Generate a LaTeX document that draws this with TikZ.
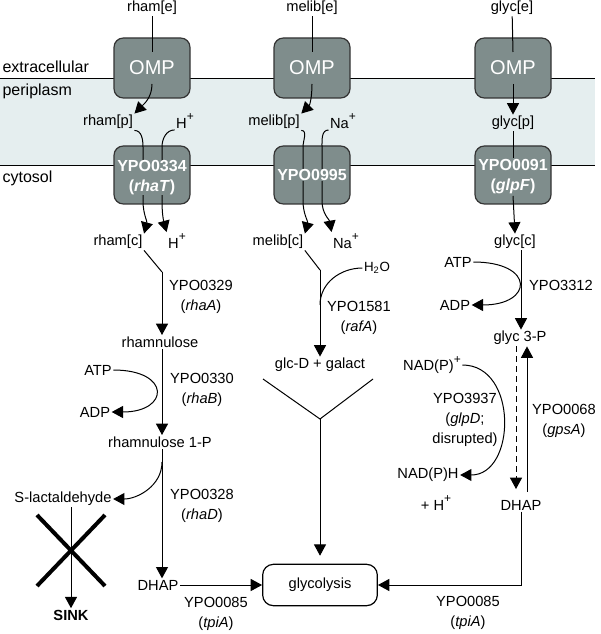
\documentclass[tikz,border=0pt]{standalone}
\usepackage{fontspec}
\setmainfont{Liberation Sans}
\usetikzlibrary{arrows.meta}
\definecolor{ompgray}{HTML}{7F8D8C}
\definecolor{periblue}{HTML}{E5EEEF}
\newcommand{\ionplus}{\raisebox{1.0ex}{\fontsize{9}{9}\selectfont +}}

\begin{document}
\begin{tikzpicture}[x=0.75pt,y=-0.75pt,
  every node/.style={font=\fontsize{11}{15}\selectfont,inner sep=1pt},
  gene/.style={align=center},
  memb/.style={anchor=west,font=\fontsize{12}{15}\selectfont},
  ompbox/.style={draw=black!80,line width=0.9pt,fill=ompgray,rounded corners=7pt,minimum width=57pt,minimum height=45pt,text=white,font=\fontsize{15}{17}\selectfont},
  tpbox/.style={ompbox,minimum height=43.5pt},
  tplabel/.style={fill=ompgray,inner sep=0pt,text=white,align=center,font=\fontsize{12}{15}\selectfont\bfseries},
  ln/.style={line width=0.75pt},
  arr/.style={ln,-{Triangle[length=8.5pt,width=9pt]}},
  cross/.style={line width=3pt}]
\useasboundingbox (0,0) rectangle (600,634);

\fill[periblue] (0,79) rectangle (595,166);
\coordinate (m0) at (0,79);
\coordinate (m1) at (595,79);
\coordinate (c0) at (0,166);
\coordinate (c1) at (595,166);
\draw[ln] (m0) -- (m1);
\draw[ln] (c0) -- (c1);

\node[memb] (extra) at (1,67) {extracellular};
\node[memb] (peri) at (1,91) {periplasm};
\node[memb] (cyto) at (1,178) {cytosol};


\node (rhame) at (152,8) {rham[e]};
\node[ompbox] (omp1) at (152,68) {OMP};
\coordinate (o1a) at (152,52);
\coordinate (o1b) at (152,84);
\draw[ln] (rhame) -- (o1a);

\node (rhamp) at (108,122) {rham[p]};
\node (hp1) at (185,121) {H\ionplus};
\draw[arr] (o1b) to[out=-90,in=45] (rhamp.north east);

\node[tpbox] (tr1) at (152,175) {};
\coordinate (r1) at (143,147);
\coordinate (r2) at (143,201);
\coordinate (h1) at (162,147);
\coordinate (h2) at (162,201);
\draw[ln] (rhamp.south east) to[out=0,in=90] (r1) -- (r2);
\draw[ln] (hp1.south west) to[out=180,in=90] (h1) -- (h2);
\node[tplabel] (tr1t) at (152,178) {YPO0334\\(\textit{rhaT})};

\node (rhamc) at (118,242) {rham[c]};
\node (hc1) at (177,241) {H\ionplus};
\draw[arr] (r2) to[out=-90,in=75] (rhamc.north east);
\draw[arr] (h2) to[out=-90,in=105] (hc1.north west);

\coordinate (k1) at (162,272);
\node (rhamnu) at (160,342) {rhamnulose};
\draw[ln] (rhamc.south east) -- (k1);
\draw[arr] (k1) -- (k1 |- rhamnu.north);
\node[gene] (rhaA) at (201,297) {YPO0329\\(\textit{rhaA})};

\node (rham1p) at (160,442) {rhamnulose 1-P};
\node (atp1) at (98,370) {ATP};
\node (adp1) at (95,412) {ADP};
\draw[arr] (rhamnu.south -| k1) -- (rham1p.north -| k1);
\draw[arr] (atp1.east) .. controls +(58,0) and +(58,0) .. (adp1.east);
\node[gene] (rhaB) at (202,390) {YPO0330\\(\textit{rhaB})};

\node (dhap1) at (158,585) {DHAP};
\node (slac) at (63,499) {S-lactaldehyde};
\coordinate (k2) at (162,462);
\draw[arr] (rham1p.south -| k1) -- (dhap1.north -| k1);
\draw[arr] (k2) to[out=-90,in=0] (slac.east);
\node[gene] (rhaD) at (202,506) {YPO0328\\(\textit{rhaD})};

\node[font=\fontsize{11}{15}\selectfont\bfseries] (sink) at (71,615) {SINK};
\draw[arr] (sink.north |- slac.south) -- (sink.north);
\coordinate (x1) at (37,515);
\coordinate (x2) at (105,586);
\coordinate (x3) at (105,515);
\coordinate (x4) at (37,586);
\draw[cross] (x1) -- (x2);
\draw[cross] (x3) -- (x4);

\node[draw,line width=0.9pt,rounded corners=8pt,minimum width=86pt,minimum height=31pt] (glyco) at (320,585) {glycolysis};
\draw[arr] (dhap1.east) -- (glyco.west);
\node[gene] (tpiA1) at (216,614) {YPO0085\\(\textit{tpiA})};


\node (melibe) at (312,8) {melib[e]};
\node[ompbox] (omp2) at (312,68) {OMP};
\coordinate (o2a) at (312,52);
\coordinate (o2b) at (312,84);
\draw[ln] (melibe) -- (o2a);

\node (melibp) at (274,122) {melib[p]};
\node (nap1) at (343,121) {Na\ionplus};
\draw[arr] (o2b) to[out=-90,in=45] (melibp.north east);

\node[tpbox] (tr2) at (312,175) {};
\coordinate (s1) at (303,147);
\coordinate (s2) at (303,201);
\coordinate (n1) at (322,147);
\coordinate (n2) at (322,201);
\draw[ln] (melibp.south east) to[out=0,in=90] (s1) -- (s2);
\draw[ln] (nap1.south west) to[out=180,in=90] (n1) -- (n2);
\node[tplabel] (tr2t) at (312,175) {YPO0995};

\node (melibc) at (278,242) {melib[c]};
\node (nac) at (346,241) {Na\ionplus};
\draw[arr] (s2) to[out=-90,in=75] (melibc.north east);
\draw[arr] (n2) to[out=-90,in=100] (nac.north west);

\coordinate (k3) at (320,270);
\coordinate (k4) at (320,305);
\node (glcd) at (320,365) {glc-D + galact};
\node[font=\fontsize{10}{15}\selectfont] (h2o) at (377,268) {H\textsubscript{2}O};
\draw[ln] (melibc.south east) -- (k3);
\draw[arr] (k3) -- (k3 |- glcd.north);
\draw[ln] (h2o.west) to[out=180,in=90] (k4);
\node[gene] (rafA) at (359,318) {YPO1581\\(\textit{rafA})};

\coordinate (y1) at (263,379);
\coordinate (y2) at (373,379);
\coordinate (yj) at (320,419);
\draw[ln] (y1) -- (yj) -- (y2);
\draw[arr,shorten >=6pt] (yj) -- (glyco.north);


\node (glyce) at (512,8) {glyc[e]};
\node[ompbox] (omp3) at (513,68) {OMP};
\coordinate (o3a) at (513,52);
\coordinate (o3b) at (513,84);
\draw[ln] (glyce) -- (o3a);

\node (glycp) at (513,123) {glyc[p]};
\draw[arr] (o3b) -- (glycp.north);

\node[tpbox] (tr3) at (513,175) {};
\coordinate (g2) at (513,158);
\coordinate (g3) at (513,196);
\draw[ln] (glycp.south) -- (g2);
\node[tplabel] (tr3t) at (513,177) {YPO0091\\(\textit{glpF})};

\node (glycc) at (515,242) {glyc[c]};
\draw[arr] (g3) -- (glycc.north);

\coordinate (g4) at (521,300);
\node (g3p) at (520,338) {glyc 3-P};
\node (atp2) at (458,262) {ATP};
\node (adp2) at (455,305) {ADP};
\draw[arr] (glycc.south -| g4) -- (g3p.north -| g4);
\draw[arr] (atp2.east) .. controls +(62,0) and +(62,0) .. (adp2.east);
\node (gk) at (561,285) {YPO3312};

\node (nad) at (432,365) {NAD(P)\ionplus};
\node (nadh) at (428,475) {NAD(P)H};
\node (hplus) at (436,503) {+ H\ionplus};
\draw[arr] (nad.east) .. controls +(56,0) and +(56,0) .. (nadh.east);
\node[gene] (glpD) at (465,420) {YPO3937\\(\textit{glpD};\\disrupted)};

\coordinate (d1) at (516,400);
\coordinate (u1) at (527,400);
\node (dhap2) at (521,505) {DHAP};
\draw[arr,dash pattern=on 4.5pt off 3pt,shorten >=7pt] (g3p.south -| d1) -- (dhap2.north -| d1);
\draw[arr,shorten <=5pt] (dhap2.north -| u1) -- (g3p.south -| u1);
\node[gene] (gpsA) at (564,421) {YPO0068\\(\textit{gpsA})};

\draw[arr] (dhap2.south) |- (glyco.east);
\node[gene] (tpiA2) at (468,613) {YPO0085\\(\textit{tpiA})};

\end{tikzpicture}
\end{document}
